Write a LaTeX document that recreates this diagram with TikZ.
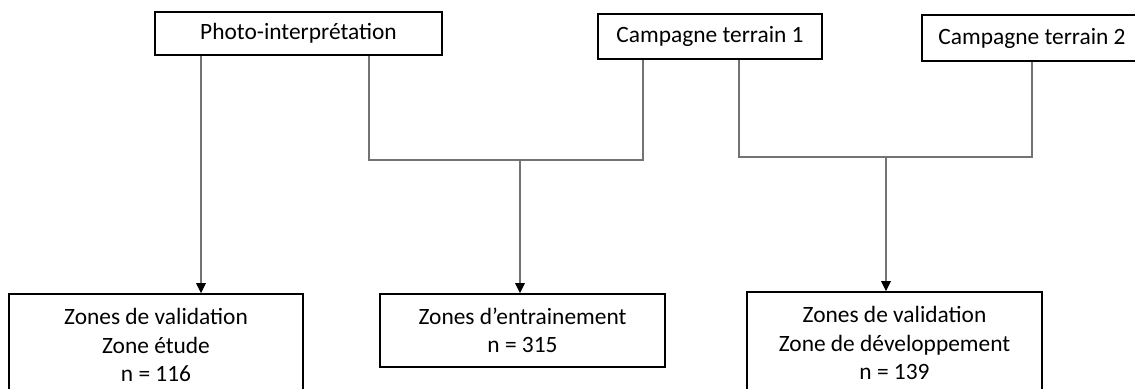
\documentclass[tikz,border=0pt]{standalone}
\usepackage{fontspec}
\setmainfont{Carlito}
\usetikzlibrary{arrows.meta}
\tikzset{
  >={Triangle[length=5pt,width=4.8pt,color=black]},
  box/.style={draw, line width=0.8pt, inner sep=0pt, align=center,
              font=\fontsize{11.7}{14.2}\selectfont},
  link/.style={draw=black!55, line width=0.6pt},
}

\begin{document}
\begin{tikzpicture}[x=0.5pt,y=-0.5pt]
  \useasboundingbox (0,0) rectangle (1135,389);

  % sources
  \node[box, minimum width=143.5pt, minimum height=21.5pt] (photo) at (298.5,33.5) {Photo-interprétation};
  \node[box, minimum width=112pt,   minimum height=22.5pt] (ct1)   at (710,36.5)   {Campagne terrain 1};
  \node[box, minimum width=110pt,   minimum height=23pt]   (ct2)   at (1032,38)    {Campagne terrain 2};

  % zones
  \node[box, minimum width=147pt,   minimum height=51pt]   (val1)  at (156,345)    {Zones de validation\\Zone étude\\n = 116};
  \node[box, minimum width=142.5pt, minimum height=36.5pt] (ent)   at (522.5,330.5){Zones d’entrainement\\n = 315};
  \node[box, minimum width=147.5pt, minimum height=51pt]   (val2)  at (894.5,343)  {Zones de validation\\Zone de développement\\n = 139};

  \coordinate (a1)  at (201,0);
  \coordinate (j1l) at (369,0);
  \coordinate (j1r) at (643,0);
  \coordinate (j1)  at (520,160);
  \coordinate (j2l) at (739,0);
  \coordinate (j2r) at (1032,0);
  \coordinate (j2)  at (886,157);

  \draw[link,->] (photo.south -| a1) -- (val1.north -| a1);
  \draw[link] (photo.south -| j1l) |- (j1) -| (ct1.south -| j1r);
  \draw[link,->] (j1) -- (ent.north -| j1);
  \draw[link] (ct1.south -| j2l) |- (j2) -| (ct2.south -| j2r);
  \draw[link,->] (j2) -- (val2.north -| j2);
\end{tikzpicture}
\end{document}
